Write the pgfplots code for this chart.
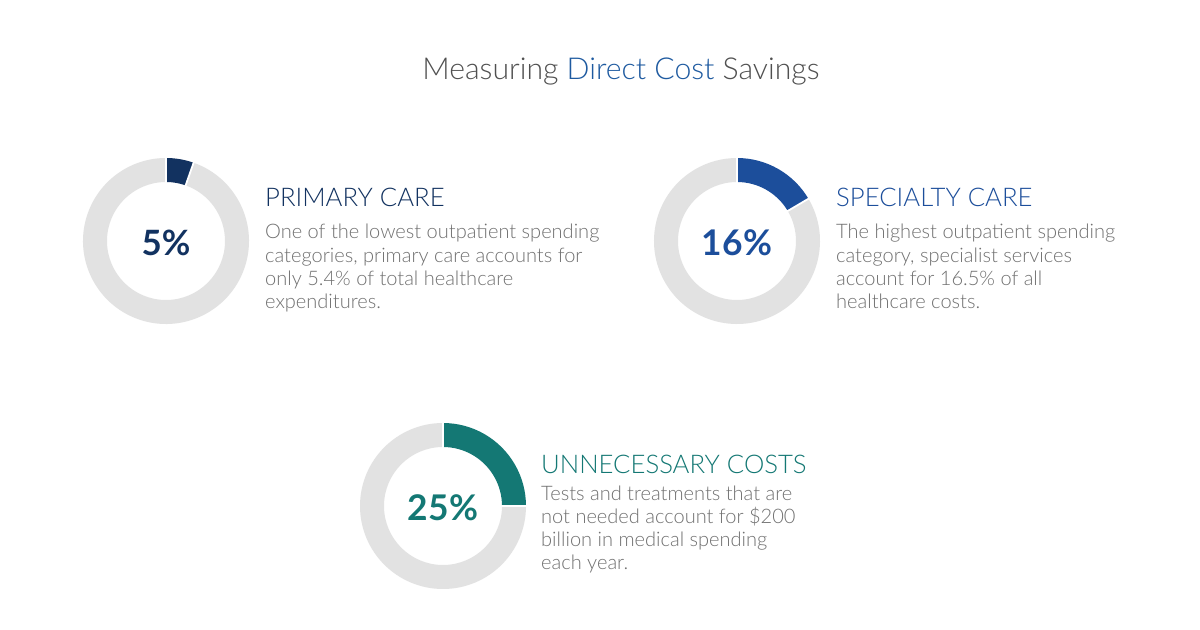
\documentclass[border=0pt]{standalone}
\usepackage{pgfplots}
\pgfplotsset{compat=1.18}
\usepackage{pgfplotstable}
\usepackage{fontspec}
\setmainfont{Lato}
\newfontfamily\light{Lato Light}
\definecolor{ringgray}{RGB}{226,226,226}
\definecolor{navy}{RGB}{18,50,96}
\definecolor{midblue}{RGB}{28,78,155}
\definecolor{teal}{RGB}{20,120,116}
\definecolor{titleblue}{RGB}{30,90,160}
\definecolor{titlegray}{RGB}{80,80,80}
\definecolor{bodygray}{RGB}{112,112,112}
\pgfplotstableread{
name value cx cy
primary 5.4 166 389
specialty 16.5 737 389
unnecessary 25 443 124
}\donutdata
\pgfplotstablegetelem{0}{value}\of\donutdata \let\vA\pgfplotsretval
\pgfplotstablegetelem{1}{value}\of\donutdata \let\vB\pgfplotsretval
\pgfplotstablegetelem{2}{value}\of\donutdata \let\vC\pgfplotsretval
% ring segment: center x, center y, start angle, end angle, color
\newcommand{\seg}[5]{%
  \fill[#5] (axis cs:#1,#2) ++(#3:83bp) arc[start angle=#3, end angle=#4, radius=83bp]
    -- ++(#4:-24bp) arc[start angle=#4, end angle=#3, radius=59bp] -- cycle;
}
\newcommand{\donut}[4]{%
  \pgfmathsetmacro{\endang}{90-3.6*#3}%
  \edef\tmp{\noexpand\seg{#1}{#2}{\endang}{-270}{ringgray}%
    \noexpand\seg{#1}{#2}{90}{\endang}{#4}%
    \noexpand\draw[white,line width=1.8bp] (axis cs:#1,#2) ++(90:57bp) -- ++(90:28bp);%
    \noexpand\draw[white,line width=1.8bp] (axis cs:#1,#2) ++(\endang:57bp) -- ++(\endang:28bp);}%
  \tmp
}
\begin{document}
\begin{tikzpicture}
\begin{axis}[x=1bp,y=1bp,xmin=0,xmax=1200,ymin=0,ymax=630,
  hide axis, clip=false, anchor=south west, at={(0,0)}]
\fill[white] (axis cs:0,0) rectangle (axis cs:1200,630);
\donut{166}{389}{\vA}{navy}
\donut{737}{389}{\vB}{midblue}
\donut{443}{124}{\vC}{teal}
% title
\node[anchor=base, inner sep=0] at (axis cs:621,550)
  {\fontsize{30.3}{36}\selectfont\light\color{titlegray}Measuring \textcolor{titleblue}{Direct Cost} Savings};
% percent labels
\node[anchor=base, inner sep=0, navy] at (axis cs:166,375) {\fontsize{35}{40}\selectfont\bfseries 5\%};
\node[anchor=base, inner sep=0, midblue] at (axis cs:737,375) {\fontsize{35.5}{40}\selectfont\bfseries 16\%};
\node[anchor=base, inner sep=0, teal] at (axis cs:443,110) {\fontsize{35.5}{40}\selectfont\bfseries 25\%};
% headings
\node[anchor=base west, inner sep=0, navy] at (axis cs:265,423) {\fontsize{25.8}{30}\selectfont\light PRIMARY CARE};
\node[anchor=base west, inner sep=0, midblue] at (axis cs:836,423) {\fontsize{25.8}{30}\selectfont\light SPECIALTY CARE};
\node[anchor=base west, inner sep=0, teal] at (axis cs:541,157) {\fontsize{25.8}{30}\selectfont\light UNNECESSARY COSTS};
% body text
\begin{scope}[every node/.style={anchor=base west, inner sep=0, text=bodygray, font=\light\fontsize{20.1}{24}\selectfont}]
\node at (axis cs:265,391) {One of the lowest outpatient spending};
\node at (axis cs:265,368) {categories, primary care accounts for};
\node at (axis cs:265,345) {only 5.4\% of total healthcare};
\node at (axis cs:265,322) {expenditures.};
\node at (axis cs:836,391) {The highest outpatient spending};
\node at (axis cs:836,368) {category, specialist services};
\node at (axis cs:836,345) {account for 16.5\% of all};
\node at (axis cs:836,322) {healthcare costs.};
\node at (axis cs:541,130) {Tests and treatments that are};
\node at (axis cs:541,107) {not needed account for \$200};
\node at (axis cs:541,84) {billion in medical spending};
\node at (axis cs:541,61) {each year.};
\end{scope}
\end{axis}
\pgfresetboundingbox
\path (0,0) rectangle (1200bp,630bp);
\end{tikzpicture}
\end{document}
